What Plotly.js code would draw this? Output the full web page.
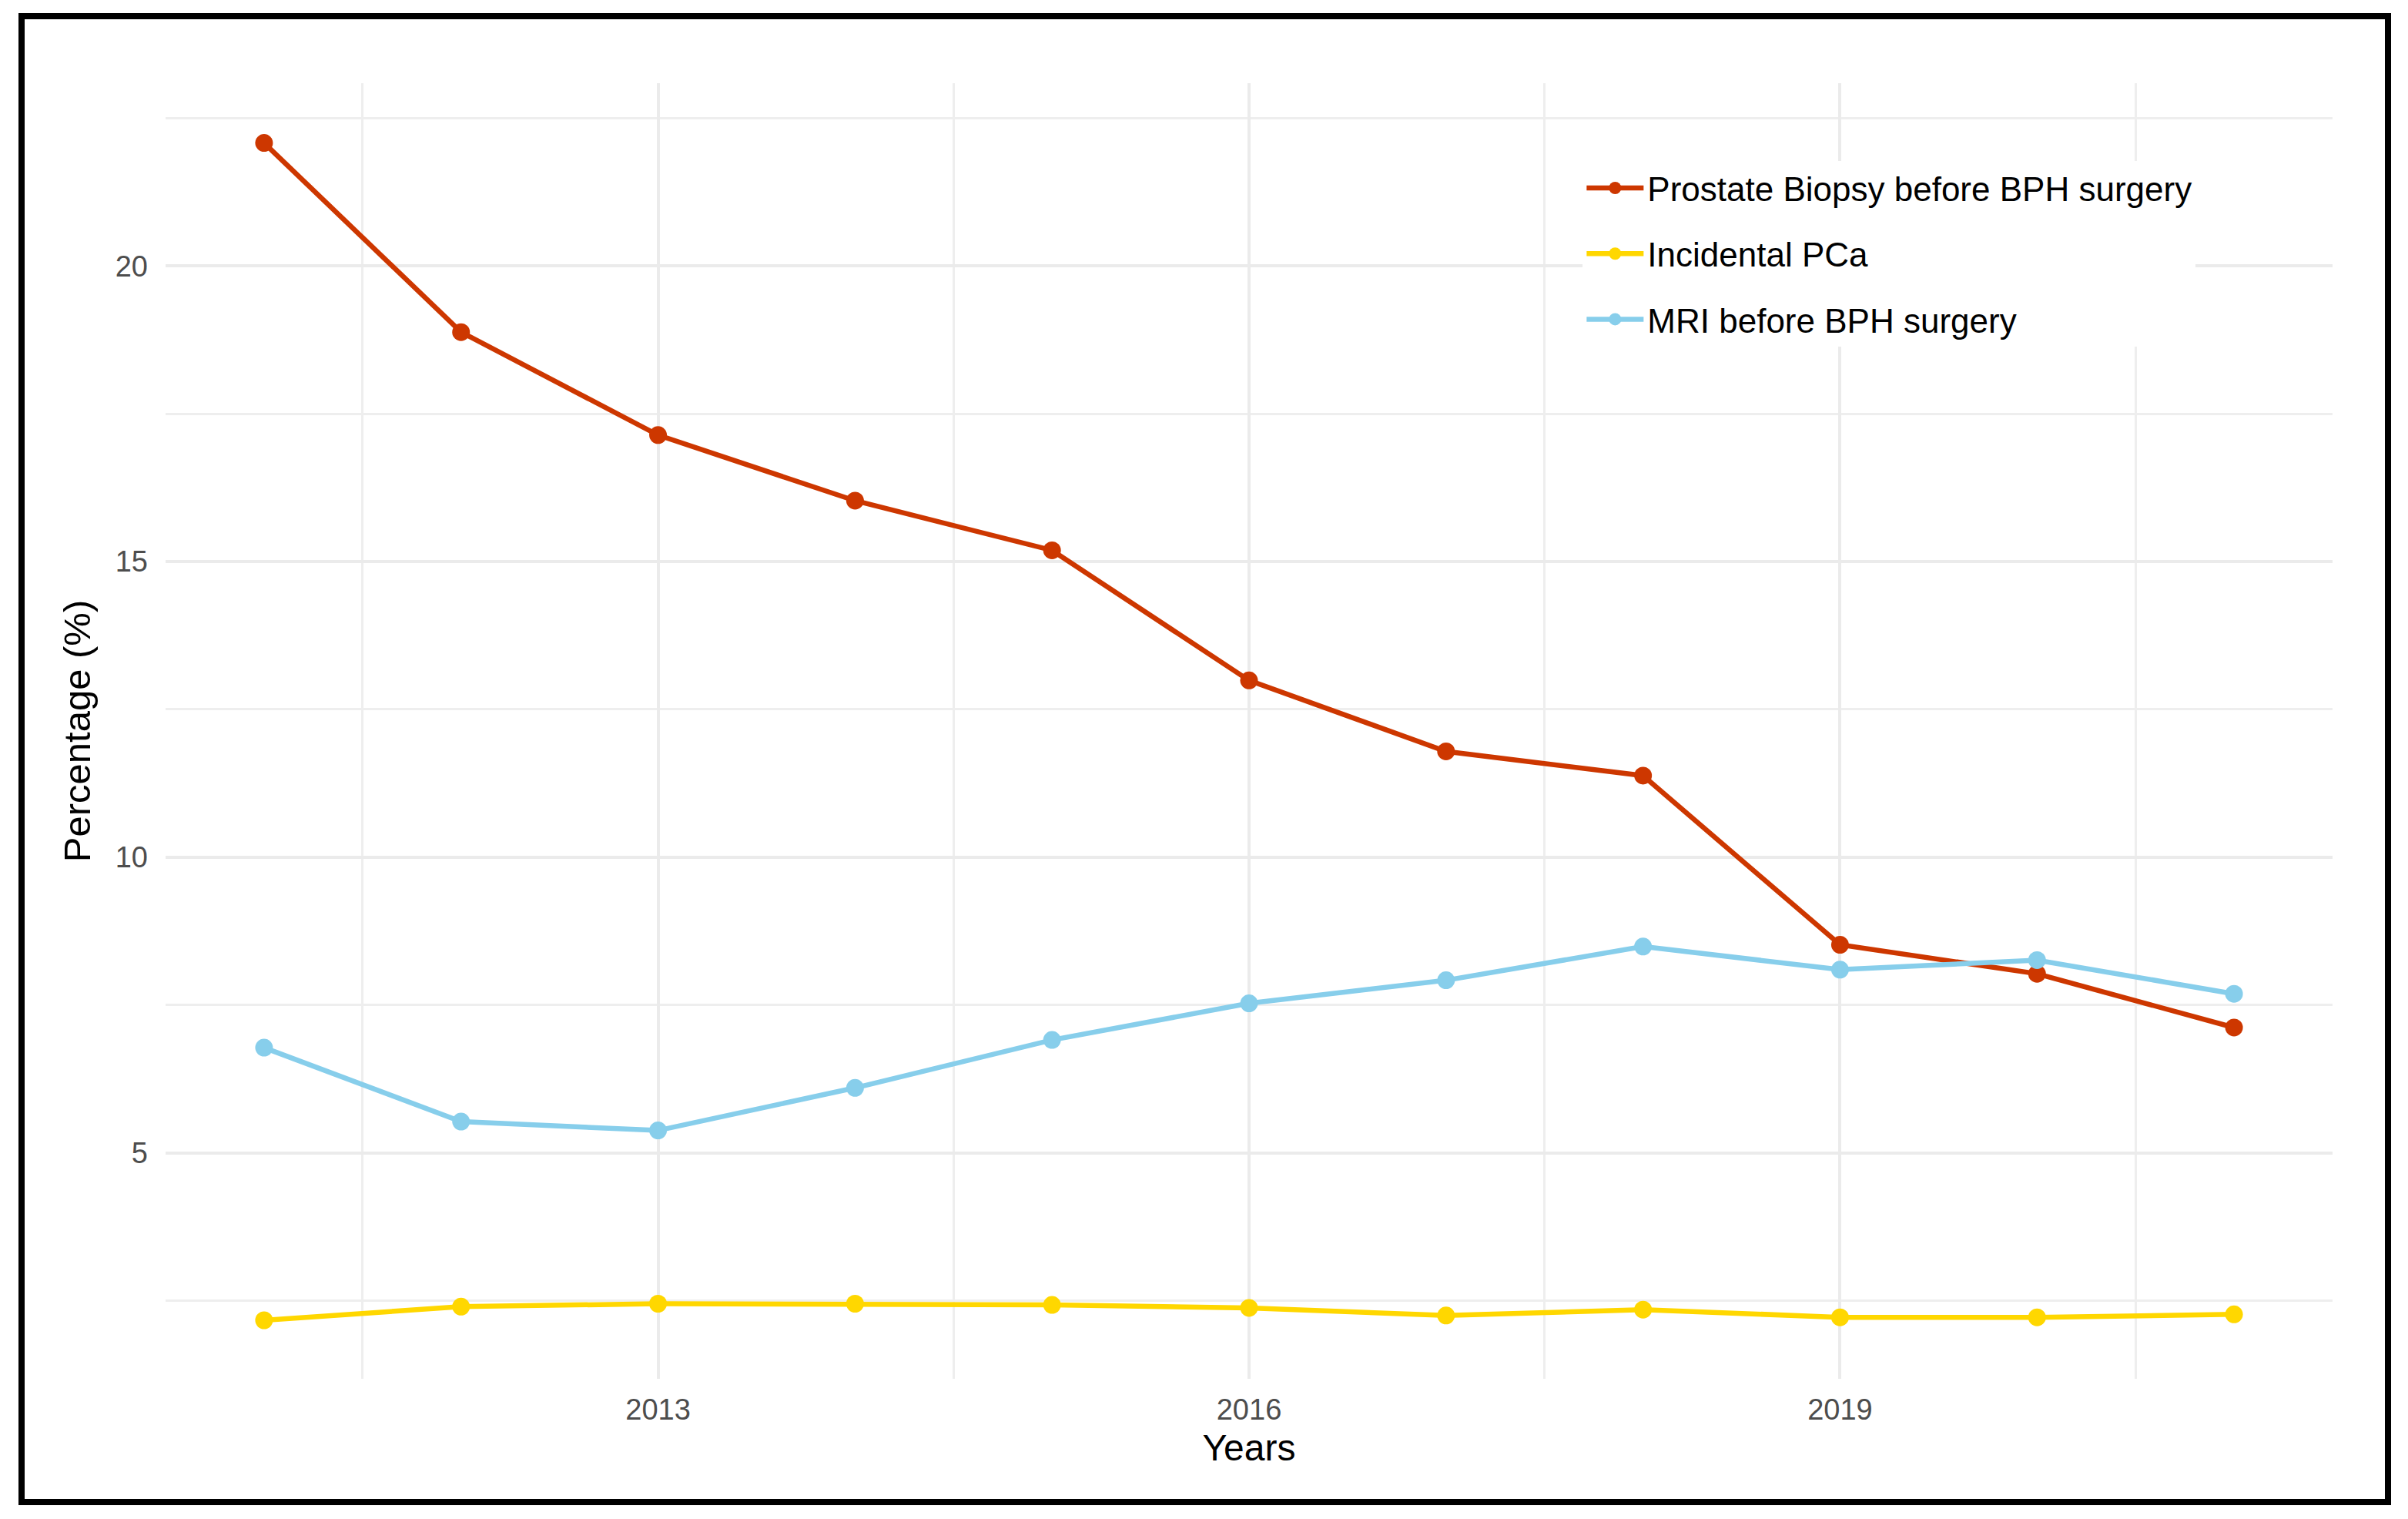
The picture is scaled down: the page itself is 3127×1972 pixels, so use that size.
<!DOCTYPE html>
<html>
<head>
<meta charset="utf-8">
<script src="https://cdn.plot.ly/plotly-3.0.1.min.js"></script>
<style>
html, body { margin: 0; padding: 0; background: #ffffff; }
#chart { position: absolute; left: 0; top: 0; width: 3127px; height: 1972px; }
#frame { position: absolute; left: 24px; top: 17px; width: 3081px; height: 1937px;
         border: 8px solid #000000; box-sizing: border-box; pointer-events: none; }
</style>
</head>
<body>
<div id="chart"></div>
<div id="frame"></div>
<script>
// ---- data ----
const years = [2011, 2012, 2013, 2014, 2015, 2016, 2017, 2018, 2019, 2020, 2021];
const biopsyBeforeSurgery = [22.08, 18.88, 17.14, 16.03, 15.19, 12.99, 11.79, 11.38, 8.52, 8.03, 7.12];
const incidentalPCa = [2.17, 2.40, 2.45, 2.45, 2.43, 2.38, 2.25, 2.35, 2.22, 2.22, 2.27];
const mriBeforeSurgery = [6.78, 5.53, 5.38, 6.10, 6.91, 7.53, 7.92, 8.49, 8.10, 8.26, 7.69];
const seriesNames = ["Prostate Biopsy before BPH surgery", "Incidental PCa", "MRI before BPH surgery"];
const seriesColors = ["#CD3700", "#FFD700", "#87CEEB"];
const xTickVals = [2013, 2016, 2019];
const yTickVals = [5, 10, 15, 20];

const seriesValues = [biopsyBeforeSurgery, incidentalPCa, mriBeforeSurgery];
const traces = seriesValues.map((vals, i) => ({
  type: "scatter",
  mode: "lines+markers",
  x: years,
  y: vals,
  name: seriesNames[i],
  legendgroup: "g" + i,
  line: { color: seriesColors[i], width: 6.5 },
  marker: { color: seriesColors[i], size: 23 }
}));

const FONT = "'Liberation Sans', Arial, Helvetica, sans-serif";

const layout = {
  width: 3127,
  height: 1972,
  paper_bgcolor: "#ffffff",
  plot_bgcolor: "#ffffff",
  margin: { l: 215, r: 98, t: 108, b: 182, pad: 0 },
  font: { family: FONT, color: "#000000" },
  showlegend: true,
  legend: {
    x: 0.654, y: 0.94, xanchor: "left", yanchor: "top",
    bgcolor: "#ffffff", borderwidth: 0,
    font: { family: FONT, size: 44, color: "#000000" },
    itemwidth: 74,
    tracegroupgap: 25,
    traceorder: "grouped"
  },
  xaxis: {
    range: [2010.5, 2021.5],
    tickmode: "array",
    tickvals: xTickVals,
    ticktext: xTickVals.map(String),
    showgrid: true, gridcolor: "#EBEBEB", gridwidth: 4,
    minor: { tickmode: "array", tickvals: [2011.5, 2014.5, 2017.5, 2020.5], showgrid: true, gridcolor: "#EEEEEE", gridwidth: 3 },
    zeroline: false, showline: false, ticks: "",
    ticklabelstandoff: 14,
    tickfont: { family: FONT, size: 38, color: "#4D4D4D" },
    title: { text: "Years", font: { family: FONT, size: 48, color: "#000000" }, standoff: 12 },
    automargin: false
  },
  yaxis: {
    range: [1.18, 23.09],
    tickmode: "array",
    tickvals: yTickVals,
    ticktext: yTickVals.map(String),
    showgrid: true, gridcolor: "#EBEBEB", gridwidth: 4,
    minor: { tickmode: "array", tickvals: [2.5, 7.5, 12.5, 17.5, 22.5], showgrid: true, gridcolor: "#EEEEEE", gridwidth: 3 },
    zeroline: false, showline: false, ticks: "",
    ticklabelstandoff: 22,
    tickfont: { family: FONT, size: 38, color: "#4D4D4D" },
    title: { text: "Percentage (%)", font: { family: FONT, size: 49, color: "#000000" }, standoff: 16 },
    automargin: false
  }
};

Plotly.newPlot("chart", traces, layout, { staticPlot: true, displayModeBar: false });
</script>
</body>
</html>
